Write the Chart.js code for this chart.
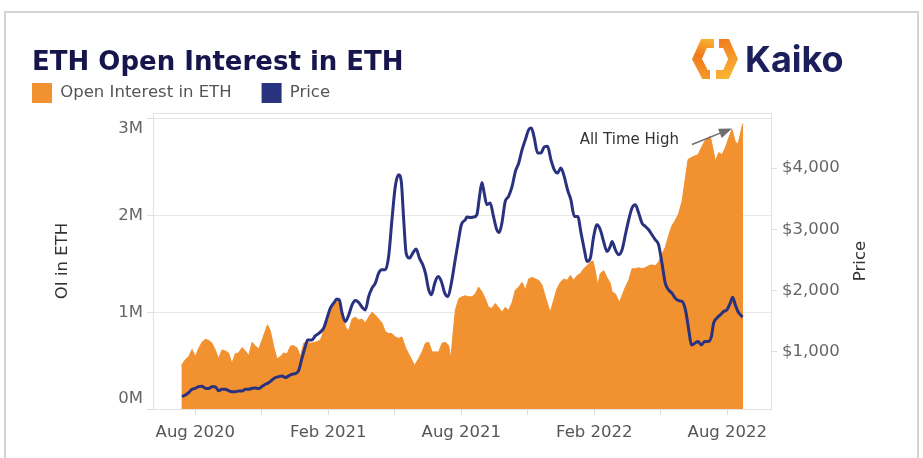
<!DOCTYPE html>
<html>
<head>
<meta charset="utf-8">
<script src="https://cdn.jsdelivr.net/npm/chart.js@4.4.1/dist/chart.umd.min.js"></script>
<style>
    html, body { margin: 0; padding: 0; background: #fff; }
    #wrap { width: 923px; height: 458px; position: relative; }
</style>
</head>
<body>
<div id="wrap"><canvas id="oi-chart"></canvas></div>
<script>
// x values are months counted from Jan 2020 (0 = Jan 2020, 7 = Aug 2020, ...)
const oiMonths = [
    6.37, 6.55, 6.70, 6.85, 7.00, 7.15, 7.30, 7.45, 7.60, 7.75, 7.90, 8.05, 8.20, 8.35, 8.50, 8.65, 8.80, 8.95, 9.11, 9.26,
    9.41, 9.56, 9.71, 9.86, 10.01, 10.16, 10.26, 10.38, 10.53, 10.68, 10.83, 10.98, 11.14, 11.29, 11.44, 11.59, 11.74, 11.89, 12.04, 12.19,
    12.41, 12.64, 12.79, 12.94, 13.09, 13.24, 13.39, 13.50, 13.62, 13.77, 13.92, 14.07, 14.22, 14.37, 14.52, 14.67, 14.82, 14.97, 15.12, 15.27,
    15.42, 15.57, 15.72, 15.87, 16.02, 16.17, 16.32, 16.47, 16.62, 16.77, 16.89, 17.07, 17.23, 17.38, 17.53, 17.68, 17.83, 17.98, 18.13, 18.28,
    18.43, 18.53, 18.61, 18.73, 18.88, 19.03, 19.18, 19.33, 19.48, 19.63, 19.78, 19.93, 20.08, 20.23, 20.38, 20.53, 20.68, 20.83, 20.98, 21.13,
    21.29, 21.44, 21.59, 21.74, 21.89, 22.04, 22.19, 22.34, 22.49, 22.64, 22.79, 22.94, 23.01, 23.16, 23.31, 23.47, 23.62, 23.77, 23.92, 24.07,
    24.22, 24.37, 24.52, 24.67, 24.82, 24.94, 25.04, 25.15, 25.27, 25.42, 25.57, 25.72, 25.80, 25.95, 26.13, 26.25, 26.40, 26.55, 26.70, 26.85,
    27.00, 27.15, 27.30, 27.45, 27.60, 27.75, 27.90, 28.05, 28.20, 28.35, 28.50, 28.65, 28.80, 28.96, 29.11, 29.23, 29.38, 29.53, 29.68, 29.83,
    29.98, 30.13, 30.23, 30.34, 30.46, 30.61, 30.76, 30.91, 31.06, 31.21, 31.36, 31.48, 31.59, 31.66, 31.71
];
// open interest, millions of ETH
const oiMillions = [
    0.45, 0.51, 0.54, 0.615, 0.54, 0.625, 0.69, 0.72, 0.71, 0.68, 0.61, 0.52, 0.61, 0.60, 0.58, 0.47, 0.57, 0.58, 0.635, 0.60,
    0.55, 0.69, 0.65, 0.62, 0.71, 0.81, 0.87, 0.81, 0.65, 0.52, 0.54, 0.58, 0.57, 0.65, 0.655, 0.63, 0.54, 0.68, 0.69, 0.68,
    0.69, 0.71, 0.81, 0.92, 1.02, 1.07, 1.12, 1.14, 1.02, 0.85, 0.81, 0.93, 0.95, 0.92, 0.93, 0.89, 0.95, 1.00, 0.97, 0.93,
    0.89, 0.80, 0.78, 0.78, 0.745, 0.73, 0.745, 0.64, 0.57, 0.505, 0.45, 0.52, 0.59, 0.68, 0.69, 0.59, 0.59, 0.59, 0.68, 0.69,
    0.655, 0.52, 0.74, 1.02, 1.14, 1.16, 1.17, 1.16, 1.16, 1.19, 1.26, 1.21, 1.14, 1.05, 1.04, 1.09, 1.05, 1.00, 1.05, 1.02,
    1.10, 1.23, 1.26, 1.31, 1.23, 1.345, 1.36, 1.345, 1.33, 1.28, 1.16, 1.05, 1.00, 1.12, 1.24, 1.31, 1.345, 1.33, 1.38, 1.33,
    1.38, 1.40, 1.45, 1.48, 1.52, 1.53, 1.43, 1.28, 1.40, 1.43, 1.36, 1.30, 1.21, 1.19, 1.10, 1.17, 1.26, 1.33, 1.45, 1.45,
    1.46, 1.45, 1.46, 1.48, 1.49, 1.48, 1.52, 1.60, 1.67, 1.79, 1.895, 1.95, 2.015, 2.15, 2.39, 2.58, 2.60, 2.615, 2.63, 2.70,
    2.77, 2.80, 2.82, 2.70, 2.56, 2.65, 2.63, 2.70, 2.80, 2.89, 2.76, 2.74, 2.84, 2.92, 2.95
];
const priceMonths = [
    6.40, 6.55, 6.70, 6.85, 7.00, 7.15, 7.30, 7.45, 7.60, 7.75, 7.90, 8.05, 8.20, 8.35, 8.50, 8.65, 8.80, 8.95, 9.11, 9.26,
    9.41, 9.56, 9.71, 9.86, 10.01, 10.16, 10.31, 10.46, 10.61, 10.76, 10.91, 11.06, 11.21, 11.36, 11.51, 11.66, 11.81, 11.96, 12.07, 12.26,
    12.41, 12.61, 12.79, 12.94, 13.09, 13.24, 13.39, 13.50, 13.62, 13.77, 13.92, 14.07, 14.22, 14.37, 14.52, 14.67, 14.82, 14.97, 15.12, 15.27,
    15.42, 15.57, 15.72, 15.87, 16.02, 16.17, 16.29, 16.40, 16.51, 16.66, 16.81, 16.96, 17.11, 17.26, 17.38, 17.53, 17.65, 17.80, 17.95, 18.10,
    18.25, 18.40, 18.55, 18.70, 18.85, 19.00, 19.18, 19.25, 19.40, 19.55, 19.70, 19.82, 19.93, 20.03, 20.15, 20.30, 20.45, 20.60, 20.71, 20.83,
    20.98, 21.13, 21.29, 21.44, 21.59, 21.74, 21.89, 22.04, 22.16, 22.29, 22.44, 22.59, 22.74, 22.89, 23.04, 23.19, 23.34, 23.49, 23.64, 23.79,
    23.94, 24.10, 24.25, 24.40, 24.55, 24.67, 24.82, 24.97, 25.12, 25.27, 25.42, 25.57, 25.72, 25.80, 25.95, 26.10, 26.25, 26.40, 26.55, 26.70,
    26.85, 27.00, 27.15, 27.30, 27.45, 27.60, 27.75, 27.90, 28.05, 28.20, 28.35, 28.50, 28.65, 28.80, 28.96, 29.11, 29.26, 29.38, 29.53, 29.68,
    29.83, 29.98, 30.13, 30.28, 30.38, 30.53, 30.68, 30.83, 30.98, 31.13, 31.24, 31.36, 31.48, 31.59, 31.69
];
// ETH price, USD
const priceUsd = [
    264, 291, 329, 385, 400, 427, 432, 400, 396, 427, 427, 362, 385, 385, 362, 345, 345, 355, 355, 385,
    385, 400, 405, 396, 432, 466, 493, 537, 575, 590, 602, 575, 602, 630, 640, 689, 892, 1082, 1191, 1191,
    1257, 1311, 1383, 1547, 1710, 1792, 1858, 1840, 1628, 1491, 1600, 1764, 1836, 1803, 1727, 1682, 1900, 2037, 2119, 2283,
    2337, 2337, 2555, 3155, 3700, 3892, 3783, 3155, 2610, 2528, 2610, 2676, 2528, 2419, 2283, 2010, 1928, 2119, 2228, 2146,
    1955, 1900, 2119, 2447, 2774, 3074, 3155, 3200, 3190, 3200, 3237, 3537, 3766, 3592, 3401, 3428, 3210, 2992, 2948, 3101,
    3455, 3537, 3700, 3946, 4083, 4301, 4465, 4628, 4656, 4492, 4247, 4247, 4345, 4356, 4138, 3974, 3919, 4001, 3864, 3646,
    3483, 3210, 3210, 2938, 2664, 2473, 2528, 2882, 3074, 2992, 2800, 2637, 2720, 2800, 2664, 2583, 2664, 2910, 3155, 3347,
    3401, 3264, 3101, 3046, 2992, 2910, 2828, 2746, 2447, 2119, 2010, 1955, 1874, 1836, 1820, 1682, 1355, 1110, 1137, 1164,
    1110, 1164, 1164, 1246, 1465, 1547, 1600, 1655, 1682, 1792, 1890, 1764, 1655, 1600, 1563
];

const xTickMonths = [7, 10, 13, 16, 19, 22, 25, 28, 31];
const xTickLabels = { 7: 'Aug 2020', 13: 'Feb 2021', 19: 'Aug 2021', 25: 'Feb 2022', 31: 'Aug 2022' };
const oiTicks = [0, 1, 2, 3];
const priceTicks = [1000, 2000, 3000, 4000];
const athMonth = 31.21; // point the "All Time High" arrow refers to

const ORANGE = '#f2912f';
const NAVY = '#29327f';
const FONT = 'DejaVu Sans';

// outer frame, plot box, title, logo, axis titles and the ATH note
const decorations = {
    id: 'decorations',
    beforeDraw(chart) {
        const { ctx } = chart;
        ctx.save();
        ctx.fillStyle = '#fff';
        ctx.fillRect(0, 0, chart.width, chart.height);
        ctx.strokeStyle = '#d4d4d4';
        ctx.lineWidth = 2;
        ctx.strokeRect(5, 12, chart.width - 10, chart.height + 10);
        ctx.restore();
    },
    beforeDatasetsDraw(chart) {
        const { ctx, chartArea: a } = chart;
        ctx.save();
        ctx.strokeStyle = '#e2e2e2';
        ctx.lineWidth = 1;
        ctx.strokeRect(a.left + 0.5, a.top + 0.5, a.right - a.left, a.bottom - a.top);
        ctx.restore();
    },
    afterDatasetsDraw(chart) {
        const { ctx } = chart;
        const xs = chart.scales.x, ys = chart.scales.y;
        const i = oiMonths.indexOf(athMonth);
        const tipX = xs.getPixelForValue(oiMonths[i]);
        const tipY = ys.getPixelForValue(oiMillions[i]) - 1;
        const sx = tipX - 40, sy = tipY + 16;
        const ang = Math.atan2(tipY - sy, tipX - sx);
        ctx.save();
        ctx.strokeStyle = '#6d6d6d';
        ctx.fillStyle = '#6d6d6d';
        ctx.lineWidth = 1.5;
        ctx.beginPath();
        ctx.moveTo(sx, sy);
        ctx.lineTo(tipX - 10 * Math.cos(ang), tipY - 10 * Math.sin(ang));
        ctx.stroke();
        ctx.beginPath();
        ctx.moveTo(tipX, tipY);
        ctx.lineTo(tipX - 13 * Math.cos(ang) + 5 * Math.sin(ang), tipY - 13 * Math.sin(ang) - 5 * Math.cos(ang));
        ctx.lineTo(tipX - 13 * Math.cos(ang) - 5 * Math.sin(ang), tipY - 13 * Math.sin(ang) + 5 * Math.cos(ang));
        ctx.closePath();
        ctx.fill();
        ctx.fillStyle = '#333';
        ctx.font = `15px "${FONT}"`;
        ctx.textAlign = 'right';
        ctx.textBaseline = 'middle';
        ctx.fillText('All Time High', sx - 13, tipY + 12);
        ctx.restore();
    },
    afterDraw(chart) {
        const { ctx, chartArea: a } = chart;
        ctx.save();
        // title
        ctx.fillStyle = '#16164c';
        ctx.font = `bold 26px "${FONT}"`;
        ctx.textAlign = 'left';
        ctx.textBaseline = 'alphabetic';
        ctx.fillText('ETH Open Interest in ETH', 32, 70);

        // axis titles, both read bottom to top
        const midY = (a.top + a.bottom) / 2;
        ctx.fillStyle = '#333';
        ctx.font = `16.5px "${FONT}"`;
        ctx.textAlign = 'center';
        ctx.textBaseline = 'middle';
        [['OI in ETH', 63], ['Price', 861]].forEach(([txt, x]) => {
            ctx.save();
            ctx.translate(x, midY);
            ctx.rotate(-Math.PI / 2);
            ctx.fillText(txt, 0, 0);
            ctx.restore();
        });

        // Kaiko logo
        const cx = 715, cy = 59;
        ctx.lineWidth = 9;
        ctx.lineJoin = 'miter';
        ctx.lineCap = 'butt';
        let g = ctx.createLinearGradient(cx - 5, cy - 18, cx - 15, cy + 18);
        g.addColorStop(0, '#f8ae2f');
        g.addColorStop(0.45, '#f07a1e');
        g.addColorStop(1, '#f39a28');
        ctx.strokeStyle = g;
        ctx.beginPath();
        ctx.moveTo(cx - 1, cy - 15.5);
        ctx.lineTo(cx - 11, cy - 15.5);
        ctx.lineTo(cx - 18, cy);
        ctx.lineTo(cx - 10, cy + 15.5);
        ctx.lineTo(cx - 5, cy + 15.5);
        ctx.stroke();
        g = ctx.createLinearGradient(cx + 5, cy - 18, cx + 15, cy + 18);
        g.addColorStop(0, '#f07e20');
        g.addColorStop(1, '#f9b533');
        ctx.strokeStyle = g;
        ctx.beginPath();
        ctx.moveTo(cx + 4, cy - 15.5);
        ctx.lineTo(cx + 11, cy - 15.5);
        ctx.lineTo(cx + 18, cy);
        ctx.lineTo(cx + 11, cy + 15.5);
        ctx.lineTo(cx + 1, cy + 15.5);
        ctx.stroke();
        ctx.fillStyle = '#1b1f5c';
        ctx.font = 'bold 36px Inter';
        ctx.textAlign = 'left';
        ctx.textBaseline = 'alphabetic';
        ctx.fillText('Kaiko', 745, 72);
        ctx.restore();
    }
};

const tickFont = { family: FONT, size: 16.5 };

new Chart(document.getElementById('oi-chart'), {
    type: 'line',
    data: {
        datasets: [{
            label: 'Open Interest in ETH',
            data: oiMonths.map((m, i) => ({ x: m, y: oiMillions[i] })),
            yAxisID: 'y',
            backgroundColor: ORANGE,
            borderColor: ORANGE,
            borderWidth: 1,
            fill: 'origin',
            pointRadius: 0,
            tension: 0,
            order: 2
        }, {
            label: 'Price',
            data: priceMonths.map((m, i) => ({ x: m, y: priceUsd[i] })),
            yAxisID: 'y1',
            backgroundColor: NAVY,
            borderColor: NAVY,
            borderWidth: 3,
            fill: false,
            pointRadius: 0,
            cubicInterpolationMode: 'monotone',
            order: 1
        }]
    },
    options: {
        responsive: true,
        maintainAspectRatio: false,
        animation: false,
        layout: { padding: { left: 2, right: 52, top: 53, bottom: 0 } },
        plugins: {
            title: { display: false },
            tooltip: { enabled: false },
            legend: {
                display: true,
                align: 'start',
                labels: {
                    boxWidth: 20,
                    boxHeight: 20,
                    padding: 30,
                    color: '#555',
                    font: { family: FONT, size: 16.5 },
                    sort: (a, b) => a.datasetIndex - b.datasetIndex,
                    generateLabels: (chart) => Chart.defaults.plugins.legend.labels.generateLabels(chart)
                        .map(l => ({ ...l, lineWidth: 0 }))
                }
            }
        },
        scales: {
            x: {
                type: 'linear',
                min: 5.09,
                max: 32.97,
                afterBuildTicks: (scale) => { scale.ticks = xTickMonths.map(v => ({ value: v })); },
                afterFit: (scale) => { scale.height = 49; },
                ticks: {
                    autoSkip: false,
                    maxRotation: 0,
                    padding: 8,
                    color: '#555',
                    font: tickFont,
                    callback: (v) => xTickLabels[v] || ''
                },
                grid: { drawOnChartArea: false, color: '#dcdcdc', tickLength: 6 },
                border: { color: '#d0d0d0' }
            },
            y: {
                position: 'left',
                min: 0,
                max: 3.06,
                afterBuildTicks: (scale) => { scale.ticks = oiTicks.map(v => ({ value: v })); },
                afterFit: (scale) => { scale.width = 151; },
                ticks: {
                    padding: 4,
                    color: '#666',
                    font: tickFont,
                    callback: (v) => v === 0 ? ['0M', ''] : v === 3 ? ['', '3M'] : v + 'M'
                },
                grid: { color: '#e8e8e8', tickLength: 6, tickColor: '#dedede' },
                border: { color: '#e2e2e2' }
            },
            y1: {
                position: 'right',
                min: 62,
                max: 4900,
                afterBuildTicks: (scale) => { scale.ticks = priceTicks.map(v => ({ value: v })); },
                afterFit: (scale) => { scale.width = 100; },
                ticks: {
                    padding: 5,
                    color: '#666',
                    font: tickFont,
                    callback: (v) => '$' + v.toLocaleString('en-US')
                },
                grid: { drawOnChartArea: false, tickLength: 6, color: '#dedede' },
                border: { color: '#e2e2e2' }
            }
        }
    },
    plugins: [decorations]
});
</script>
</body>
</html>
